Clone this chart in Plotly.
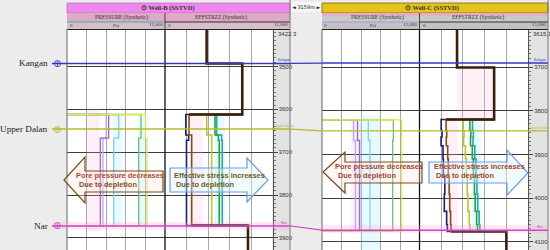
import plotly.graph_objects as go

W, H = 550, 250

# ---------------- data ----------------
FORMATIONS = ["Kangan", "Upper Dalan", "Nar"]
FORM_COLORS = ["#3737C8", "#B7BA2C", "#CC48C6"]
TOPS_B = [3493, 3646, 3872]          # m SSTVD, Well-B
TOPS_C = [3691, 3846, 4073]          # m SSTVD, Well-C

RANGE_B = [3928, 3415]
RANGE_C = [4118.3, 3615.4]
TICKS_B = [3500, 3600, 3700, 3800, 3900]
TICKS_C = [3700, 3800, 3900, 4000, 4100]
TOP_LABEL_B = "3422.3"
TOP_LABEL_C = "3615.1"
DISTANCE_LABEL = "3159m"

P_RANGE = [0, 12000]
E_RANGE = [0, 15000]

# Well-B pore pressure (psi) per interval
B_P_DEPTHS = [3612, 3667, 3871]
B_P_LAVENDER = [4800, 4400]
B_P_PURPLE = [5100, 4080]
B_P_CYAN = [6330, 5720]
B_P_GREEN = [9060, 8780]
B_P_YELLOW = [9600, 9790]

# Well-B effective stress (psi) per interval
B_BASE_DEPTHS = [3415, 3493, 3612]
B_BASE_VALS = [5810, 10780]
B_DEEP_VAL = 11580
B_E_DEPTHS = [3612, 3660, 3672, 3871]
B_E_NAVY = [2900, 3300, 3000]
B_E_BROWN = [3350, 3720, 3720]
B_E_YGREEN = [5820, 6510, 6510]
B_E_GREEN = [6980, 7450, 7570]
B_E_TEAL = [7210, 7900, 7990]

# Well-C pore pressure (psi) per interval
C_P_DEPTHS = [3821, 3868, 4075]
C_P_LAVENDER = [3880, 4120]
C_P_PURPLE = [4370, 4620]
C_P_CYAN = [5700, 5910]
C_P_GREEN = [8780, 8700]
C_P_YELLOW = [9810, 9810]

# Well-C effective stress (psi) per interval
C_BASE_DEPTHS = [3615.4, 3701, 3820]
C_BASE_VALS = [5190, 10320]
C_DEEP_VAL = 12010
C_E_DEPTHS = [3820, 3845, 3860, 3880, 3910, 3950, 3990, 4030, 4060, 4076]
C_E_NAVY = [2990, 3120, 2980, 3250, 3300, 3500, 3430, 3750, 3850]
C_E_BROWN = [3670, 3760, 3700, 3900, 3980, 4100, 4180, 4300, 4360]
C_E_YGREEN = [6050, 6150, 6100, 6350, 6480, 6600, 6700, 6880, 6970]
C_E_GREEN = [6970, 7100, 7050, 7300, 7450, 7600, 7700, 7900, 8020]
C_E_TEAL = [7330, 7450, 7400, 7650, 7800, 7950, 8050, 8250, 8350]

# light tint bands: (value from, value to, depth top, depth bottom)
B_P_TINT_PINK = [2450, 4000, 3600, 3885]
B_P_TINT_CYAN = [[5600, 6700, 3612, 3871], [8700, 9900, 3612, 3871]]
B_E_TINT_PINK = [3500, 5300, 3612, 3871]
B_E_TINT_CYAN = [6900, 8300, 3612, 3871]
C_P_TINT_CYAN = [4650, 7150, 3812, 4118]
C_P_TINT_LAV = [3600, 4800, 3821, 4075]
C_E_TINT_PINK = [[3800, 5300, 3820, 4076], [5190, 10320, 3701, 3820]]
C_E_TINT_CYAN = [7200, 8500, 3820, 4076]

P_COLORS = ["#C2A6EA", "#9A66DE", "#86CDF0", "#6CC06C", "#EDE84A"]
E_COLORS = ["#1C1C7E", "#8A4A17", "#B9C62A", "#23A823", "#2A9FC4"]
THICK_COLOR = "#3A1E08"
PINK = "rgba(255,175,210,0.20)"
CYAN = "rgba(140,235,255,0.22)"
LAV = "rgba(200,170,240,0.18)"

DOM_Y = [0, 220 / H]


def px(x):
    return x / W


def py(y):
    return 1 - y / H


def depth_to_paper(d, rng):
    return DOM_Y[0] + (d - rng[0]) / (rng[1] - rng[0]) * (DOM_Y[1] - DOM_Y[0])


def step_xy(depths, vals, before=None, after=None):
    xs, ys = [], []
    if before is not None:
        xs.append(before)
        ys.append(depths[0])
    for i, v in enumerate(vals):
        xs += [v, v]
        ys += [depths[i], depths[i + 1]]
    if after is not None:
        xs.append(after)
        ys.append(depths[-1])
    return xs, ys


fig = go.Figure()


def add_line(xs, ys, color, width, xa, ya):
    fig.add_trace(go.Scatter(x=xs, y=ys, mode="lines", line=dict(color=color, width=width),
                             xaxis=xa, yaxis=ya, hoverinfo="skip"))


def add_tint(box, color, xa, ya):
    x0, x1, d0, d1 = box
    fig.add_trace(go.Scatter(x=[x0, x1, x1, x0, x0], y=[d0, d0, d1, d1, d0], mode="lines",
                             fill="toself", fillcolor=color, line=dict(width=0),
                             xaxis=xa, yaxis=ya, hoverinfo="skip"))


# tints
add_tint(B_P_TINT_PINK, PINK, "x", "y")
for b in B_P_TINT_CYAN:
    add_tint(b, CYAN, "x", "y")
add_tint(B_E_TINT_PINK, PINK, "x2", "y")
add_tint(B_E_TINT_CYAN, CYAN, "x2", "y")
add_tint(C_P_TINT_CYAN, CYAN, "x3", "y2")
add_tint(C_P_TINT_LAV, LAV, "x3", "y2")
for b in C_E_TINT_PINK:
    add_tint(b, PINK, "x4", "y2")
add_tint(C_E_TINT_CYAN, CYAN, "x4", "y2")

# Well-B pressure
for vals, col in zip([B_P_LAVENDER, B_P_PURPLE, B_P_CYAN, B_P_GREEN, B_P_YELLOW], P_COLORS):
    xs, ys = step_xy(B_P_DEPTHS, vals, before=0, after=0)
    add_line(xs, ys, col, 1.3, "x", "y")
# Well-C pressure
for vals, col in zip([C_P_LAVENDER, C_P_PURPLE, C_P_CYAN, C_P_GREEN, C_P_YELLOW], P_COLORS):
    xs, ys = step_xy(C_P_DEPTHS, vals, before=0, after=0)
    add_line(xs, ys, col, 1.3, "x3", "y2")

# Well-B effective stress
for vals, col in zip([B_E_TEAL, B_E_GREEN, B_E_YGREEN, B_E_NAVY, B_E_BROWN],
                     [E_COLORS[4], E_COLORS[3], E_COLORS[2], E_COLORS[0], E_COLORS[1]]):
    xs, ys = step_xy(B_E_DEPTHS, vals, before=B_BASE_VALS[-1], after=B_DEEP_VAL)
    add_line(xs, ys, col, 1.6, "x2", "y")
xs, ys = step_xy(B_BASE_DEPTHS, B_BASE_VALS, after=B_E_BROWN[0])
add_line(xs, ys, THICK_COLOR, 2.6, "x2", "y")
xs, ys = step_xy([B_E_DEPTHS[-1], RANGE_B[0]], [B_DEEP_VAL], before=B_E_BROWN[-1])
add_line(xs, ys, THICK_COLOR, 2.6, "x2", "y")

# Well-C effective stress
for vals, col in zip([C_E_TEAL, C_E_GREEN, C_E_YGREEN, C_E_NAVY, C_E_BROWN],
                     [E_COLORS[4], E_COLORS[3], E_COLORS[2], E_COLORS[0], E_COLORS[1]]):
    xs, ys = step_xy(C_E_DEPTHS, vals, before=C_BASE_VALS[-1], after=C_DEEP_VAL)
    add_line(xs, ys, col, 1.6, "x4", "y2")
xs, ys = step_xy(C_BASE_DEPTHS, C_BASE_VALS, after=C_E_BROWN[0])
add_line(xs, ys, THICK_COLOR, 2.6, "x4", "y2")
xs, ys = step_xy([C_E_DEPTHS[-1], RANGE_C[0]], [C_DEEP_VAL], before=C_E_BROWN[-1])
add_line(xs, ys, THICK_COLOR, 2.6, "x4", "y2")

# ---------------- axes ----------------
xcommon = dict(showticklabels=False, ticks="", showgrid=True, gridcolor="#A8A8A8", gridwidth=1,
               zeroline=False, showline=False, fixedrange=True, tick0=0)
ycommon = dict(side="right", ticks="outside", ticklen=4, tickcolor="#444", showgrid=True,
               gridcolor="#3C3C3C", gridwidth=1, zeroline=False, showline=True, linecolor="#555",
               tickfont=dict(size=6, color="#333", family="Liberation Sans"), fixedrange=True,
               minor=dict(dtick=10, ticks="outside", ticklen=2, tickcolor="#777", showgrid=False))
fig.update_layout(
    xaxis=dict(domain=[px(67), px(165)], range=P_RANGE, dtick=2400, anchor="y", **xcommon),
    xaxis2=dict(domain=[px(165), px(272.5)], range=E_RANGE, dtick=3000, anchor="y", **xcommon),
    xaxis3=dict(domain=[px(322), px(419.5)], range=P_RANGE, dtick=2400, anchor="y2", **xcommon),
    xaxis4=dict(domain=[px(419.5), px(528)], range=E_RANGE, dtick=3000, anchor="y2", **xcommon),
    yaxis=dict(domain=DOM_Y, range=RANGE_B, anchor="x2", tickvals=TICKS_B, **ycommon),
    yaxis2=dict(domain=DOM_Y, range=RANGE_C, anchor="x4", tickvals=TICKS_C, **ycommon),
)

shapes = []
annots = []


def rect(x0, y0, x1, y1, fill, line=None, lw=0, layer="below"):
    shapes.append(dict(type="rect", xref="paper", yref="paper", x0=px(x0), x1=px(x1), y0=py(y1), y1=py(y0),
                       fillcolor=fill, line=dict(color=line or fill, width=lw), layer=layer))


def seg(x0, y0, x1, y1, color, lw=1, layer="above"):
    shapes.append(dict(type="line", xref="paper", yref="paper", x0=px(x0), x1=px(x1), y0=py(y0), y1=py(y1),
                       line=dict(color=color, width=lw), layer=layer))


def text(x, y, s, size, color="#222", xanchor="center", family="Liberation Serif", bold=False):
    if bold:
        s = "<b>" + s + "</b>"
    annots.append(dict(xref="paper", yref="paper", x=px(x), y=py(y), text=s, showarrow=False,
                       xanchor=xanchor, yanchor="middle", font=dict(size=size, color=color, family=family)))


# depth track backgrounds
rect(272.5, 29, 290, 250, "#E2E2E2")
rect(528, 29, 548, 250, "#E2E2E2")
rect(291, 2, 321, 12, "#F6F6F6")

# headers Well-B
rect(67, 3, 290, 13, "#EE88EE", "#B060B0", 0.6)
rect(67, 13, 290, 22, "#DFA8C4")
rect(67, 22, 290, 29, "#D6BFCB")
seg(67, 22, 165, 22, "#3DB5A5", 1.2, "below")
seg(165, 22, 290, 22, "#333333", 1.2, "below")
seg(165, 13, 165, 29, "#444", 1, "below")
# headers Well-C
rect(322, 3, 548, 13, "#E4C31C", "#7A6A10", 0.8)
rect(322, 13, 548, 22, "#C9C9C9")
rect(322, 13, 548, 15.5, "#E8A8C6")
rect(322, 22, 548, 29, "#C2C2C2")
seg(322, 22, 419.5, 22, "#B58BE8", 1.2, "below")
seg(419.5, 22, 548, 22, "#333333", 1.2, "below")
seg(419.5, 13, 419.5, 29, "#444", 1, "below")

# frame lines
for x0, x1 in [(67, 290), (322, 548)]:
    seg(x0, 29.5, x1, 29.5, "#222", 1)
seg(67, 29, 67, 250, "#666", 1)
seg(165, 29, 165, 250, "#111", 1.3)
seg(290, 0, 290, 250, "#777", 1)
seg(322, 29, 322, 250, "#666", 1)
seg(419.5, 29, 419.5, 250, "#111", 1.3)
seg(548, 0, 548, 250, "#777", 1)

# formation lines
for i, name in enumerate(FORMATIONS):
    c = FORM_COLORS[i]
    if name == "Nar":
        shapes.append(dict(type="rect", xref="paper", yref="y", x0=px(52), x1=px(290),
                           y0=TOPS_B[i] - 9, y1=TOPS_B[i] + 9, fillcolor="rgba(255,160,215,0.25)",
                           line=dict(width=0), layer="above"))
        shapes.append(dict(type="rect", xref="paper", yref="y2", x0=px(322), x1=px(548),
                           y0=TOPS_C[i] - 12, y1=TOPS_C[i] + 6, fillcolor="rgba(255,160,215,0.25)",
                           line=dict(width=0), layer="above"))
    shapes.append(dict(type="line", xref="paper", yref="y", x0=px(52), x1=px(291),
                       y0=TOPS_B[i], y1=TOPS_B[i], line=dict(color=c, width=1.4)))
    shapes.append(dict(type="line", xref="paper", yref="paper", x0=px(291), x1=px(322),
                       y0=depth_to_paper(TOPS_B[i], RANGE_B), y1=depth_to_paper(TOPS_C[i], RANGE_C),
                       line=dict(color=c, width=1.2)))
    shapes.append(dict(type="line", xref="paper", yref="y2", x0=px(322), x1=px(548),
                       y0=TOPS_C[i], y1=TOPS_C[i], line=dict(color=c, width=1.4)))
    annots.append(dict(xref="paper", yref="y", x=px(50), y=TOPS_B[i], text=name, showarrow=False,
                       xanchor="right", yanchor="middle",
                       font=dict(size=9.2, color="#222", family="Liberation Serif")))
    annots.append(dict(xref="paper", yref="y", x=px(57), y=TOPS_B[i], text="⊕", showarrow=False,
                       xanchor="center", yanchor="middle",
                       font=dict(size=10, color=c, family="DejaVu Sans")))
    annots.append(dict(xref="paper", yref="y", x=px(284), y=TOPS_B[i], yshift=3, text=name,
                       showarrow=False, xanchor="center", yanchor="middle",
                       font=dict(size=3.5, color=c, family="Liberation Sans")))
    annots.append(dict(xref="paper", yref="y2", x=px(540), y=TOPS_C[i], yshift=3, text=name,
                       showarrow=False, xanchor="center", yanchor="middle",
                       font=dict(size=3.5, color=c, family="Liberation Sans")))


# arrows
def poly(points, fill, line, lw=1.2):
    path = "M " + " L ".join(f"{px(x):.5f},{py(y):.5f}" for x, y in points) + " Z"
    shapes.append(dict(type="path", xref="paper", yref="paper", path=path, fillcolor=fill,
                       line=dict(color=line, width=lw), layer="above"))


PORE_FILL = "rgba(255,228,228,0.35)"
EFF_FILL = "rgba(220,245,255,0.40)"
PORE_EDGE = "#7A4A1E"
EFF_EDGE = "#6C9BE6"
poly([(64, 180), (85, 157), (85, 171), (163, 171), (163, 192), (85, 192), (85, 203)], PORE_FILL, PORE_EDGE)
poly([(170, 168), (247, 168), (247, 158), (268, 180), (247, 202), (247, 192), (170, 192)], EFF_FILL, EFF_EDGE)
poly([(323, 172), (345, 152), (345, 162), (422, 162), (422, 183), (345, 183), (345, 193)], PORE_FILL, PORE_EDGE)
poly([(429, 162), (507, 162), (507, 150), (528, 173), (507, 195), (507, 183), (429, 183)], EFF_FILL, EFF_EDGE)

AF = "Liberation Sans"
text(74, 175, "Pore pressure decreases", 7.4, "#B04A2A", "left", AF, True)
text(77, 184, "Due to depletion", 7.4, "#8B4A1A", "left", AF, True)
text(172, 175, "Effective stress increases", 7.4, "#6E5A1A", "left", AF, True)
text(174, 184, "Due to depletion", 7.4, "#6E5A1A", "left", AF, True)
text(333, 166, "Pore pressure decreases", 7.4, "#A4452A", "left", AF, True)
text(336, 175, "Due to depletion", 7.4, "#A4452A", "left", AF, True)
text(432, 166, "Effective stress increases", 7.4, "#A4452A", "left", AF, True)
text(434, 175, "Due to depletion", 7.4, "#A4452A", "left", AF, True)

# header texts
text(168, 8, "⊙ Well-B (SSTVD)", 6.5, "#333", bold=True)
text(121, 17.5, "PRESSURE (Synthetic)", 5.5, "#333")
text(221, 17.5, "EFFSTRZZ (Synthetic)", 5.5, "#333")
text(67.5, 25.5, "0", 5, "#333", "left")
text(116, 25.5, "Psi", 5, "#333")
text(164.5, 25.5, "12,000", 5, "#333", "right")
text(166, 25.5, "0", 5, "#333", "left")
text(289.5, 25.5, "15,000", 5, "#333", "right")

text(432, 8, "⊙ Well-C (SSTVD)", 6.5, "#333", bold=True)
text(377, 17.5, "PRESSURE (Synthetic)", 5.5, "#333")
text(478, 17.5, "EFFSTRZZ (Synthetic)", 5.5, "#333")
text(322.5, 25.5, "0", 5, "#333", "left")
text(373, 25.5, "Psi", 5, "#333")
text(419, 25.5, "12,000", 5, "#333", "right")
text(420.5, 25.5, "0", 5, "#333", "left")
text(547.5, 25.5, "15,000", 5, "#333", "right")

text(306, 7, "◄ " + DISTANCE_LABEL + " ►", 5, "#222", family="DejaVu Sans")
text(276, 34, TOP_LABEL_B, 6, "#333", "left", "Liberation Sans")
text(531, 34, TOP_LABEL_C, 6, "#333", "left", "Liberation Sans")

fig.update_layout(width=W, height=H, margin=dict(l=0, r=0, t=0, b=0),
                  paper_bgcolor="#ECECEC", plot_bgcolor="white", showlegend=False,
                  shapes=shapes, annotations=annots)

fig.write_html("out.html", config={"displayModeBar": False},
               post_script="document.body.style.margin='0';document.body.style.overflow='hidden';")
